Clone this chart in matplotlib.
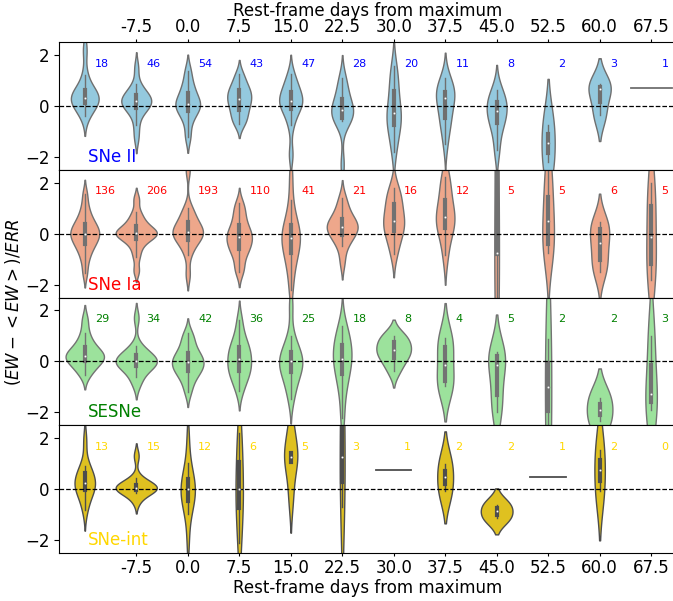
import colorsys
import numpy as np
import matplotlib
matplotlib.use('Agg')
import matplotlib.pyplot as plt
import matplotlib.colors as mcolors

# Fases (bins de 7.5 dias); el primer bin no lleva etiqueta
phase_ticks = list(range(1, 12))
phase_labels = ['-7.5', '0.0', '7.5', '15.0', '22.5', '30.0',
                '37.5', '45.0', '52.5', '60.0', '67.5']

# (EW - <EW>)/ERR por bin, valores representativos
snii_ew = [
    [-0.41, -0.1, 0.0, 0.15, 0.25, 0.3, 0.35, 0.45, 0.57, 0.7, 1.2, 2.2],
    [-1.25, -0.75, -0.3, -0.15, -0.05, 0.05, 0.12, 0.18, 0.24, 0.3, 0.38, 0.48,
     0.62, 0.85, 1.5],
    [-1.2, -0.6, -0.28, -0.1, 0.0, 0.07, 0.2, 0.4, 0.62, 0.9, 1.37],
    [-0.7, -0.54, -0.3, -0.12, 0.05, 0.2, 0.32, 0.45, 0.6, 0.71, 0.95, 1.24],
    [-1.9, -0.74, -0.3, -0.08, 0.05, 0.15, 0.21, 0.35, 0.5, 0.71, 0.9, 1.24],
    [-2.3, -0.6, -0.54, -0.45, -0.3, -0.21, -0.1, 0.05, 0.21, 0.5, 0.85, 1.1],
    [-1.8, -1.3, -0.91, -0.7, -0.5, -0.35, -0.2, 0.1, 0.5, 0.8, 1.2, 1.57],
    [-1.5, -0.8, -0.67, -0.3, 0.0, 0.29, 0.4, 0.5, 0.62, 0.9, 1.1],
    [-1.73, -0.9, -0.6, -0.3, -0.1, 0.1, 0.3, 0.62],
    [-2.2, -0.74],
    [-0.35, 0.65, 0.84],
    [0.69],
]
snii_n = [18, 46, 54, 43, 47, 28, 20, 11, 8, 2, 3, 1]

snia_ew = [
    [-1.55, -1.08, -0.8, -0.6, -0.45, -0.36, -0.25, -0.15, -0.05, 0.0, 0.05,
     0.15, 0.25, 0.33, 0.45, 0.6, 0.8, 1.09, 1.55],
    [-1.45, -0.9, -0.56, -0.35, -0.2, -0.12, -0.06, -0.02, 0.02, 0.06, 0.12,
     0.2, 0.3, 0.45, 0.6, 0.85, 1.35],
    [-1.6, -0.82, -0.5, -0.3, -0.22, -0.1, 0.0, 0.05, 0.1, 0.2, 0.3, 0.43,
     0.6, 0.8, 1.02, 2.5],
    [-1.5, -1.28, -0.9, -0.7, -0.58, -0.45, -0.3, -0.2, -0.09, 0.0, 0.1, 0.28,
     0.45, 0.7, 0.95, 1.2],
    [-2.2, -1.48, -1.1, -0.8, -0.56, -0.4, -0.25, -0.09, 0.05, 0.2, 0.37, 0.7, 1.3, 2.3],
    [-1.1, -0.49, -0.25, -0.09, 0.05, 0.15, 0.25, 0.3, 0.38, 0.45, 0.6, 0.8, 1.09, 1.4],
    [-0.8, -0.3, -0.03, 0.2, 0.4, 0.5, 0.7, 1.0, 1.3, 1.49, 1.8],
    [-0.85, 0.0, 0.24, 0.5, 0.67, 0.9, 1.3, 1.88, 2.2],
    [-3.5, -0.8, -0.75, 3.0, 5.0],
    [-0.75, -0.42, 0.5, 1.42, 2.6],
    [-1.5, -1.2, -0.6, -0.1, 0.3, 0.45],
    [-1.8, -1.2, -0.12, 1.1, 2.0],
]
snia_n = [136, 206, 193, 110, 41, 21, 16, 12, 5, 5, 6, 5]

sesne_ew = [
    [-0.52, -0.3, -0.15, 0.0, 0.1, 0.15, 0.2, 0.25, 0.3, 0.45, 0.6, 0.78, 1.1, 1.63],
    [-0.9, -0.62, -0.4, -0.23, -0.15, -0.1, -0.05, 0.0, 0.05, 0.1, 0.2, 0.3,
     0.39, 0.61, 1.7],
    [-1.2, -0.85, -0.6, -0.45, -0.36, -0.25, -0.15, -0.06, 0.0, 0.1, 0.2, 0.29,
     0.45, 0.65, 0.91, 1.1],
    [-1.17, -0.8, -0.6, -0.42, -0.3, -0.15, 0.0, 0.15, 0.3, 0.45, 0.59, 0.8, 1.1, 1.63],
    [-1.46, -1.0, -0.7, -0.42, -0.3, -0.15, 0.0, 0.1, 0.2, 0.36, 0.6, 1.0, 2.2],
    [-2.2, -1.24, -0.8, -0.39, -0.2, 0.0, 0.2, 0.4, 0.6, 0.81, 1.1, 1.4],
    [-0.39, 0.0, 0.2, 0.39, 0.5, 0.7, 0.98, 1.0],
    [-0.98, -0.7, 0.45, 0.91],
    [-2.0, -1.3, -0.15, 0.2, 0.35],
    [-2.89, 0.87],
    [-2.35, -1.42],
    [-1.9, -1.28, 0.98],
]
sesne_n = [29, 34, 42, 36, 25, 18, 8, 4, 5, 2, 2, 3]

snint_ew = [
    [-0.8, -0.4, -0.1, 0.0, 0.1, 0.2, 0.26, 0.4, 0.6, 0.75, 0.91, 1.9],
    [-0.46, -0.15, -0.06, -0.02, 0.01, 0.04, 0.07, 0.1, 0.15, 0.25, 0.42, 1.3],
    [-2.0, -0.98, -0.7, -0.46, -0.3, -0.1, 0.0, 0.1, 0.2, 0.39, 0.7, 1.04, 2.0],
    [-2.1, -0.9, -0.3, 0.3, 1.3, 2.2],
    [-0.3, 1.07, 1.24, 1.43, 2.4],
    [-0.71, 1.27, 4.0],
    [0.75],
    [-0.06, 0.98],
    [-1.13, -0.61],
    [0.48],
    [-0.06, 1.52],
    [],
]
snint_n = [13, 15, 12, 6, 5, 3, 1, 2, 2, 1, 2, 0]

groups = ['SNe II', 'SNe Ia', 'SESNe', 'SNe-int']
fill_colors = ['skyblue', 'lightsalmon', 'lightgreen', 'gold']
text_colors = ['blue', 'red', 'green', 'gold']


def desat(color, prop=0.75):
    r, g, b = mcolors.to_rgb(color)
    h, l, s = colorsys.rgb_to_hls(r, g, b)
    return colorsys.hls_to_rgb(h, l, s * prop)


def kdeCurve(vals, n):
    # KDE gaussiano, ancho de banda de Scott con el numero real de objetos
    vals = np.asarray(vals, float)
    bw = vals.std(ddof=1) * n ** (-0.2)
    grid = np.linspace(vals.min() - 2 * bw, vals.max() + 2 * bw, 100)
    z = (grid[:, None] - vals[None, :]) / bw
    dens = np.exp(-0.5 * z ** 2).sum(axis=1) / (len(vals) * bw * np.sqrt(2 * np.pi))
    return grid, dens


def violinPanel(ax, data, counts, color):
    fc = desat(color)
    lum = colorsys.rgb_to_hls(*fc)[1] * 0.6
    gray = (lum, lum, lum)
    curves = []
    for vals, n in zip(data, counts):
        if len(vals) == 0:
            curves.append(None)
        elif len(vals) == 1:
            curves.append((np.array(vals, float), np.array([1.0])))
        else:
            curves.append(kdeCurve(vals, n))
    dmax = max(c[1].max() for c in curves if c is not None)

    for i, (vals, c) in enumerate(zip(data, curves)):
        if c is None:
            continue
        y, d = c
        w = d / dmax * 0.4
        if len(vals) == 1:
            ax.plot([i - w[0], i + w[0]], [y[0], y[0]], color=gray, lw=1.3)
            continue
        ax.fill_betweenx(y, i - w, i + w, facecolor=fc, edgecolor=gray, lw=1.0)
        v = np.asarray(vals, float)
        q25, q50, q75 = np.percentile(v, [25, 50, 75])
        lim = 1.5 * (q75 - q25)
        lo = v[v >= q25 - lim].min()
        hi = v[v <= q75 + lim].max()
        ax.plot([i, i], [lo, hi], color=gray, lw=1.0)
        ax.plot([i, i], [q25, q75], color=gray, lw=3.0)
        ax.scatter(i, q50, s=4, color='white', edgecolor=gray, linewidth=0.5, zorder=3)


plt.rcParams['font.size'] = 12
fig = plt.figure(figsize=(6.73, 6.01), dpi=100)

all_data = [snii_ew, snia_ew, sesne_ew, snint_ew]
all_n = [snii_n, snia_n, sesne_n, snint_n]

left, width = 0.0877, 0.918
top, h = 0.9301, 0.21256
axes = []
for k in range(4):
    ax = fig.add_axes([left, top - (k + 1) * h, width, h])
    violinPanel(ax, all_data[k], all_n[k], fill_colors[k])
    ax.axhline(0, color='k', ls='--', lw=0.9)
    for i, n in enumerate(all_n[k]):
        ax.text(i + 0.2, 1.65, str(n), color=text_colors[k], fontsize=8, va='center')
    ax.text(0.07, -2.0, groups[k], color=text_colors[k], fontsize=12, va='center')
    ax.set_xlim(-0.5, 11.5)
    ax.set_ylim(-2.5, 2.5)
    ax.set_yticks([-2, 0, 2])
    ax.set_xticks(phase_ticks)
    ax.tick_params(axis='x', length=2.5, pad=2)
    axes.append(ax)

axes[0].xaxis.set_ticks_position('top')
axes[0].xaxis.set_label_position('top')
axes[0].set_xticklabels(phase_labels)
axes[0].set_xlabel('Rest-frame days from maximum', labelpad=1.5)
for ax in axes[1:3]:
    ax.tick_params(axis='x', bottom=False, labelbottom=False)
axes[3].set_xticklabels(phase_labels)
axes[3].set_xlabel('Rest-frame days from maximum', labelpad=1.5)

fig.text(0.02, 0.4975, '$(EW - <EW>)/ERR$', rotation=90, ha='center', va='center',
         fontsize=12)

plt.savefig('out.png', dpi=100)
